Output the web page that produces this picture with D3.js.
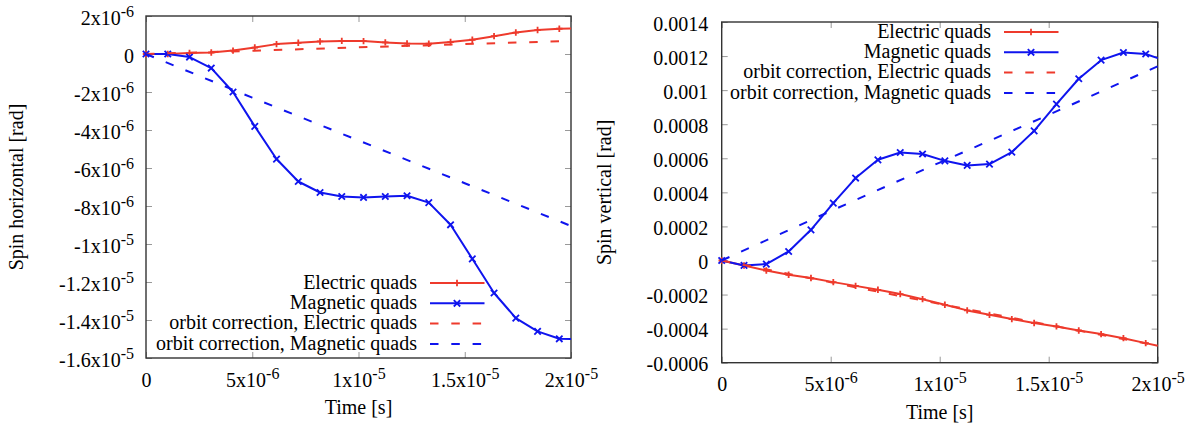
<!DOCTYPE html>
<html>
<head>
<meta charset="utf-8">
<script src="https://cdn.jsdelivr.net/npm/d3@7"></script>
<style>
  body { margin: 0; background: #fff; }
  svg { font-family: "Liberation Serif", "Times New Roman", serif; }
</style>
</head>
<body>
<div id="chart"></div>
<script>
// sampled times (s) of the tracking output, last entry is the end of the run
var time = [0, 1.024e-6, 2.047e-6, 3.071e-6, 4.095e-6, 5.119e-6, 6.142e-6, 7.166e-6, 8.19e-6, 9.213e-6,
  1.0237e-5, 1.1261e-5, 1.2284e-5, 1.3308e-5, 1.4332e-5, 1.5356e-5, 1.6379e-5, 1.7403e-5, 1.8427e-5, 1.945e-5, 2.0e-5];
var timeOrbit = [0, 5e-6, 1e-5, 1.5e-5, 2e-5];

// left panel: horizontal spin
var hElectric = [0, 0.0, 0.05e-6, 0.08e-6, 0.18e-6, 0.34e-6, 0.52e-6, 0.59e-6, 0.66e-6, 0.69e-6,
  0.68e-6, 0.61e-6, 0.55e-6, 0.54e-6, 0.63e-6, 0.75e-6, 0.94e-6, 1.13e-6, 1.26e-6, 1.33e-6, 1.34e-6];
var hMagnetic = [0, 0, -0.16e-6, -0.74e-6, -2.0e-6, -3.81e-6, -5.53e-6, -6.71e-6, -7.29e-6, -7.5e-6,
  -7.55e-6, -7.5e-6, -7.46e-6, -7.82e-6, -8.99e-6, -10.78e-6, -12.58e-6, -13.9e-6, -14.6e-6, -14.99e-6, -15.0e-6];
var hOrbitElectric = [0, 0.17e-6, 0.35e-6, 0.52e-6, 0.69e-6];
var hOrbitMagnetic = [0, -2.3e-6, -4.55e-6, -6.8e-6, -9.05e-6];

// right panel: vertical spin
var vElectric = [0, -0.29e-4, -0.59e-4, -0.84e-4, -1.03e-4, -1.27e-4, -1.49e-4, -1.72e-4, -1.97e-4, -2.27e-4,
  -2.6e-4, -2.93e-4, -3.19e-4, -3.44e-4, -3.67e-4, -3.87e-4, -4.11e-4, -4.32e-4, -4.56e-4, -4.85e-4, -5.01e-4];
var vMagnetic = [0, -0.29e-4, -0.21e-4, 0.53e-4, 1.8e-4, 3.37e-4, 4.84e-4, 5.91e-4, 6.34e-4, 6.25e-4,
  5.85e-4, 5.58e-4, 5.66e-4, 6.36e-4, 7.61e-4, 9.18e-4, 10.67e-4, 11.76e-4, 12.21e-4, 12.12e-4, 11.88e-4];
var vOrbitElectric = [0, -1.28e-4, -2.55e-4, -3.78e-4, -5.0e-4];
var vOrbitMagnetic = [0, 2.9e-4, 5.75e-4, 8.55e-4, 11.4e-4];

var seriesNames = ["Electric quads", "Magnetic quads", "orbit correction, Electric quads", "orbit correction, Magnetic quads"];

var xTicks = [0, 5e-6, 1e-5, 1.5e-5, 2e-5];
var xTickLabels = ["0", "5x10^-6", "1x10^-5", "1.5x10^-5", "2x10^-5"];
var hTicks = [2e-6, 0, -2e-6, -4e-6, -6e-6, -8e-6, -1e-5, -1.2e-5, -1.4e-5, -1.6e-5];
var hTickLabels = ["2x10^-6", "0", "-2x10^-6", "-4x10^-6", "-6x10^-6", "-8x10^-6", "-1x10^-5", "-1.2x10^-5", "-1.4x10^-5", "-1.6x10^-5"];
var vTicks = [0.0014, 0.0012, 0.001, 0.0008, 0.0006, 0.0004, 0.0002, 0, -0.0002, -0.0004, -0.0006];
var vTickLabels = ["0.0014", "0.0012", "0.001", "0.0008", "0.0006", "0.0004", "0.0002", "0", "-0.0002", "-0.0004", "-0.0006"];

var red = "#ee3a2c";
var blue = "#0f14ee";
var dash = "8.5,12.8";

var svg = d3.select("#chart").append("svg")
  .attr("width", 1200)
  .attr("height", 430);

function setLabel(text, s) {
  var parts = s.split("^");
  text.text(null);
  text.append("tspan").text(parts[0]);
  if (parts[1]) {
    text.append("tspan").attr("font-size", 16).attr("dy", -8).text(parts[1]);
  }
}

var plusPath = "M-3.2,0H3.2M0,-3.2V3.2";
var crossPath = "M-3.2,-3.2L3.2,3.2M-3.2,3.2L3.2,-3.2";

function drawPanel(p) {
  var x = d3.scaleLinear().domain([0, 2e-5]).range([p.left, p.right]);
  var y = d3.scaleLinear().domain(p.yDomain).range([p.bottom, p.top]);

  var bottomAxis = svg.append("g")
    .attr("transform", `translate(0, ${p.bottom})`)
    .call(d3.axisBottom(x).tickValues(xTicks).tickSize(-6).tickPadding(14.5).tickFormat(""));
  bottomAxis.selectAll(".tick text").each(function(d, i) { setLabel(d3.select(this), xTickLabels[i]); });

  svg.append("g")
    .attr("transform", `translate(0, ${p.top})`)
    .call(d3.axisTop(x).tickValues(xTicks).tickSize(-6).tickFormat(""));

  var leftAxis = svg.append("g")
    .attr("transform", `translate(${p.left}, 0)`)
    .call(d3.axisLeft(y).tickValues(p.yTicks).tickSize(-6).tickPadding(p.yPad).tickFormat(""));
  leftAxis.selectAll(".tick text").attr("dy", "0.4em")
    .each(function(d, i) { setLabel(d3.select(this), p.yTickLabels[i]); });

  svg.append("g")
    .attr("transform", `translate(${p.right}, 0)`)
    .call(d3.axisRight(y).tickValues(p.yTicks).tickSize(-6).tickFormat(""));

  svg.selectAll(".domain").remove();
  svg.selectAll(".tick line").attr("stroke", "#999").attr("stroke-width", 1);
  svg.selectAll(".tick text").attr("font-size", 20).attr("font-family", "Liberation Serif, serif").attr("fill", "#000");

  svg.append("rect")
    .attr("x", p.left).attr("y", p.top)
    .attr("width", p.right - p.left).attr("height", p.bottom - p.top)
    .attr("fill", "none").attr("stroke", "#333").attr("stroke-width", 1.4);

  var line = d3.line().x(d => x(d[0])).y(d => y(d[1]));

  var solid = [
    { vals: p.electric, color: red, marker: plusPath },
    { vals: p.magnetic, color: blue, marker: crossPath }
  ];
  solid.forEach(function(s) {
    var pts = time.map((t, i) => [t, s.vals[i]]);
    svg.append("path").datum(pts)
      .attr("d", line).attr("fill", "none")
      .attr("stroke", s.color).attr("stroke-width", 2).attr("stroke-linejoin", "round");
    svg.append("g").selectAll("path")
      .data(pts.slice(0, pts.length - 1))
      .enter().append("path")
      .attr("transform", d => `translate(${x(d[0])}, ${y(d[1])})`)
      .attr("d", s.marker)
      .attr("stroke", s.color).attr("stroke-width", 1.8).attr("fill", "none");
  });

  [{ vals: p.orbitElectric, color: red }, { vals: p.orbitMagnetic, color: blue }].forEach(function(s) {
    var pts = timeOrbit.map((t, i) => [t, s.vals[i]]);
    svg.append("path").datum(pts)
      .attr("d", line).attr("fill", "none")
      .attr("stroke", s.color).attr("stroke-width", 2).attr("stroke-dasharray", dash);
  });

  // legend
  var legendStyles = [
    { color: red, marker: plusPath, dashed: false },
    { color: blue, marker: crossPath, dashed: false },
    { color: red, dashed: true },
    { color: blue, dashed: true }
  ];
  var leg = svg.append("g");
  seriesNames.forEach(function(name, i) {
    var cy = p.legendTop + i * 20.3;
    leg.append("text")
      .attr("x", p.legendTextEnd).attr("y", cy + 5.7)
      .attr("text-anchor", "end").attr("font-size", 20)
      .text(name);
    var st = legendStyles[i];
    leg.append("line")
      .attr("x1", p.legendTextEnd + 13).attr("x2", p.legendTextEnd + 67.5)
      .attr("y1", cy).attr("y2", cy)
      .attr("stroke", st.color).attr("stroke-width", 2)
      .attr("stroke-dasharray", st.dashed ? dash : null);
    if (st.marker) {
      leg.append("path")
        .attr("transform", `translate(${p.legendTextEnd + 40}, ${cy})`)
        .attr("d", st.marker)
        .attr("stroke", st.color).attr("stroke-width", 1.8).attr("fill", "none");
    }
  });

  svg.append("text")
    .attr("x", (p.left + p.right) / 2).attr("y", p.xTitleY)
    .attr("text-anchor", "middle").attr("font-size", 20)
    .text("Time [s]");

  svg.append("text")
    .attr("transform", `translate(${p.yTitleX}, ${(p.top + p.bottom) / 2}) rotate(-90)`)
    .attr("text-anchor", "middle").attr("font-size", 20)
    .text(p.yTitle);
}

drawPanel({
  left: 146, right: 571, top: 16, bottom: 358,
  yDomain: [-1.6e-5, 2e-6], yTicks: hTicks, yTickLabels: hTickLabels, yPad: 12,
  electric: hElectric, magnetic: hMagnetic,
  orbitElectric: hOrbitElectric, orbitMagnetic: hOrbitMagnetic,
  legendTop: 283, legendTextEnd: 417,
  xTitleY: 414, yTitleX: 23, yTitle: "Spin horizontal [rad]"
});

drawPanel({
  left: 721.7, right: 1157.7, top: 22, bottom: 362.7,
  yDomain: [-0.0006, 0.0014], yTicks: vTicks, yTickLabels: vTickLabels, yPad: 13.5,
  electric: vElectric, magnetic: vMagnetic,
  orbitElectric: vOrbitElectric, orbitMagnetic: vOrbitMagnetic,
  legendTop: 32, legendTextEnd: 991,
  xTitleY: 419, yTitleX: 611, yTitle: "Spin vertical [rad]"
});
</script>
</body>
</html>
